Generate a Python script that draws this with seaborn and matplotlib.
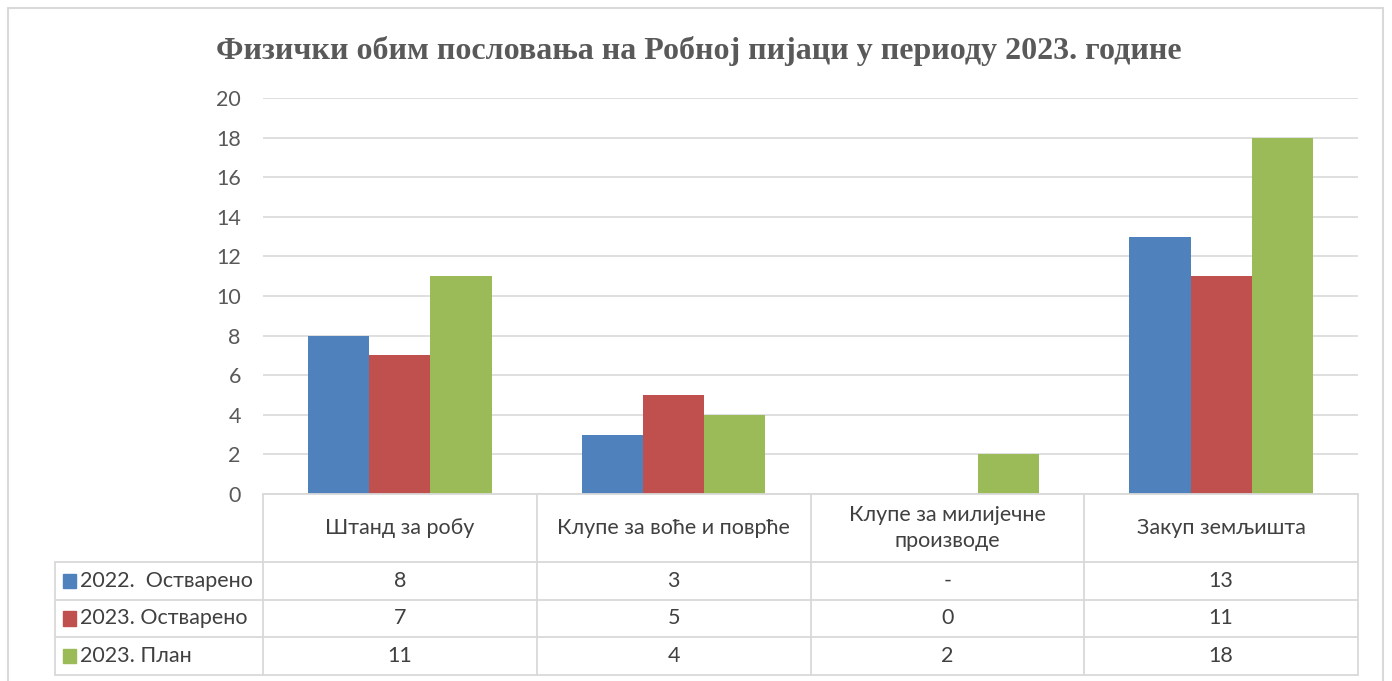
import pandas as pd
import seaborn as sns
import matplotlib.pyplot as plt
from matplotlib.patches import Rectangle

# chart data
categories = ["Штанд за робу", "Клупе за воће и поврће",
              "Клупе за милијечне\nпроизводе", "Закуп земљишта"]
series = ["2022.  Остварено", "2023. Остварено", "2023. План"]
realized_2022 = [8, 3, None, 13]
realized_2023 = [7, 5, 0, 11]
plan_2023 = [11, 4, 2, 18]
colors = ["#4F81BD", "#C0504D", "#9BBB59"]
y_ticks = list(range(0, 21, 2))
title = "Физички обим пословања на Робној пијаци у периоду 2023. године"

values = [realized_2022, realized_2023, plan_2023]
df = pd.DataFrame({
    "category": categories * len(series),
    "series": [s for s in series for _ in categories],
    "value": [v for vals in values for v in vals],
})

sns.set_theme(style="white")
plt.rcParams["font.family"] = ["Lato", "DejaVu Sans"]

W, H = 1392, 681
fig = plt.figure(figsize=(W / 100, H / 100), dpi=100)

# bar chart
ax = fig.add_axes([263 / W, 1 - 494 / H, (1358 - 263) / W, (494 - 98) / H])
sns.barplot(data=df.dropna(), x="category", y="value", hue="series",
            order=categories, hue_order=series, palette=colors,
            width=0.67, gap=0, saturation=1, errorbar=None,
            linewidth=0, legend=False, ax=ax)
ax.set_xlim(-0.5, len(categories) - 0.5)
ax.set_ylim(0, 20)
ax.set_yticks(y_ticks)
ax.set_yticklabels([str(t) for t in y_ticks], color="#595959", fontsize=15.5)
ax.tick_params(left=False, bottom=False, labelbottom=False, pad=10)
ax.set_xlabel("")
ax.set_ylabel("")
ax.grid(axis="y", color="#d9d9d9", lw=1.2)
ax.set_axisbelow(True)
for s in ax.spines.values():
    s.set_visible(False)

# data table below the bars
tab = fig.add_axes([263 / W, 1 - 675 / H, (1358 - 263) / W, (675 - 494) / H])
n = len(categories)
tab.set_xlim(-0.5, n - 0.5)
tab.set_ylim(4.8, 0)
tab.axis("off")
left = -1.26
line_kw = dict(color="#d9d9d9", lw=1.3, clip_on=False)
tab.plot([-0.5, n - 0.5], [0, 0], **line_kw)
for y in [1.8, 2.8, 3.8, 4.8]:
    tab.plot([left, n - 0.5], [y, y], **line_kw)
for i in range(n + 1):
    tab.plot([i - 0.5, i - 0.5], [0, 4.8], **line_kw)
tab.plot([left, left], [1.8, 4.8], **line_kw)

txt_color = "#404040"
for i, cat in enumerate(categories):
    tab.text(i, 0.9, cat, ha="center", va="center", fontsize=15.5,
             color=txt_color, linespacing=1.35)
for j, (name, vals) in enumerate(zip(series, values)):
    y = 2.3 + j
    tab.add_patch(Rectangle((left + 0.028, y - 0.19), 0.05, 0.38,
                            color=colors[j], clip_on=False))
    tab.text(left + 0.09, y, name, ha="left", va="center", fontsize=15.5,
             color=txt_color, clip_on=False)
    for i, v in enumerate(vals):
        tab.text(i, y, "-" if v is None else str(v), ha="center",
                 va="center", fontsize=15.5, color=txt_color)

fig.text(0.502, 1 - 51 / H, title, ha="center", va="center",
         family="Liberation Serif", weight="bold", fontsize=23,
         color="#595959")

fig.patches.append(Rectangle((8 / W, -0.01), (1383 - 8) / W, (681 - 8) / H + 0.01,
                             transform=fig.transFigure, fill=False,
                             ec="#d9d9d9", lw=1.5))

fig.savefig("out.png", dpi=100)
